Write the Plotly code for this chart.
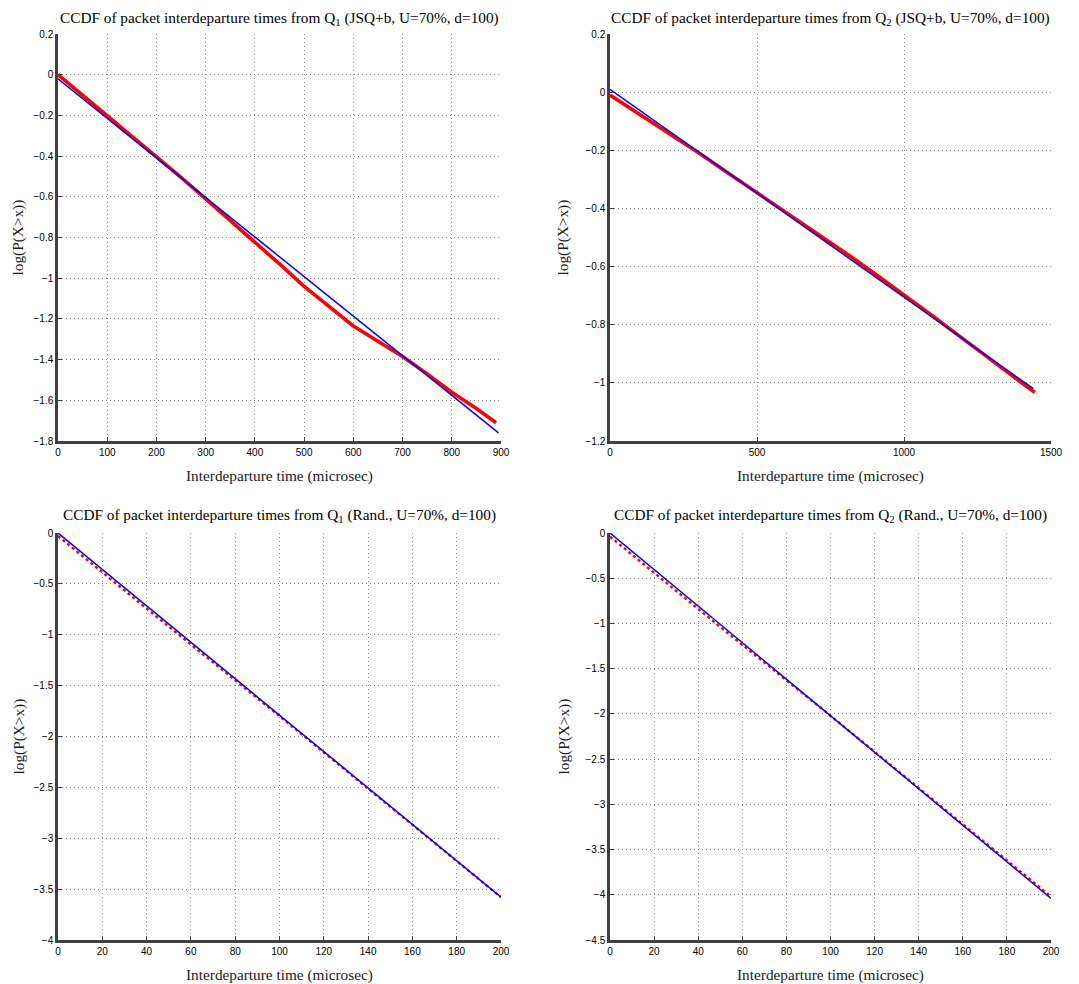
import plotly.graph_objects as go

# ---------------- data ----------------
# Top-left: Q1, JSQ+b
tl_red_x = [0, 50, 100, 150, 200, 250, 300, 350, 400, 450, 500, 550, 600, 650, 700, 750, 800, 850, 890]
tl_red_y = [0.00, -0.10, -0.20, -0.30, -0.40, -0.505, -0.61, -0.715, -0.82, -0.93, -1.04, -1.14,
            -1.235, -1.31, -1.385, -1.47, -1.56, -1.64, -1.71]
tl_blue_x = [0, 895]
tl_blue_y = [-0.02, -1.76]

# Top-right: Q2, JSQ+b
tr_red_x = [0, 100, 200, 300, 400, 500, 600, 700, 800, 900, 1000, 1100, 1200, 1300, 1400, 1445]
tr_red_y = [-0.01, -0.075, -0.142, -0.208, -0.277, -0.345, -0.413, -0.482, -0.552, -0.624, -0.697,
            -0.772, -0.848, -0.925, -1.002, -1.033]
tr_blue_x = [0, 1440]
tr_blue_y = [0.01, -1.02]

# Bottom-left: Q1, Rand.
bl_red_x = [0, 50, 100, 150, 200]
bl_red_y = [-0.03, -0.92, -1.80, -2.69, -3.58]
bl_blue_x = [0, 200]
bl_blue_y = [0.0, -3.58]

# Bottom-right: Q2, Rand.
br_red_x = [0, 50, 100, 150, 200]
br_red_y = [-0.04, -1.04, -2.02, -3.02, -4.02]
br_blue_x = [0, 200]
br_blue_y = [0.0, -4.04]

titles = [
    "CCDF of packet interdeparture times from Q<sub>1</sub> (JSQ+b, U=70%, d=100)",
    "CCDF of packet interdeparture times from Q<sub>2</sub> (JSQ+b, U=70%, d=100)",
    "CCDF of packet interdeparture times from Q<sub>1</sub> (Rand., U=70%, d=100)",
    "CCDF of packet interdeparture times from Q<sub>2</sub> (Rand., U=70%, d=100)",
]
x_label = "Interdeparture time (microsec)"
y_label = "log(P(X>x))"

x_ranges = [[0, 900], [0, 1500], [0, 200], [0, 200]]
x_dticks = [100, 500, 20, 20]
y_ranges = [[-1.8, 0.2], [-1.2, 0.2], [-4, 0], [-4.5, 0]]
y_dticks = [0.2, 0.2, 0.5, 0.5]

# ---------------- layout geometry (pixels) ----------------
W, H = 1079, 984
xpx = [[58, 501], [610, 1051]]
ypx = [[34, 441], [533, 940]]
title_y = [18, 515]
xlab_y = [476, 975]
ylab_x = [18, 563]


def px(x):
    return x / W


def py(y):
    return 1 - y / H


panels = [
    (tl_red_x, tl_red_y, tl_blue_x, tl_blue_y, "solid", 3.6),
    (tr_red_x, tr_red_y, tr_blue_x, tr_blue_y, "solid", 3.6),
    (bl_red_x, bl_red_y, bl_blue_x, bl_blue_y, "dot", 2.4),
    (br_red_x, br_red_y, br_blue_x, br_blue_y, "dot", 2.4),
]

fig = go.Figure()
serif = "Liberation Serif, Times New Roman, serif"
sans = "Liberation Sans, Arial, sans-serif"
TFS = 15.3

annotations = []
for i, (rx, ry, bx, by, rdash, rw) in enumerate(panels):
    n = i + 1
    xa = "x" if n == 1 else f"x{n}"
    ya = "y" if n == 1 else f"y{n}"
    fig.add_trace(go.Scatter(x=rx, y=ry, mode="lines", xaxis=xa, yaxis=ya,
                             line=dict(color="#ff0000", width=rw, dash=rdash), showlegend=False))
    fig.add_trace(go.Scatter(x=bx, y=by, mode="lines", xaxis=xa, yaxis=ya,
                             line=dict(color="#0000ff", width=1.5), showlegend=False))
    col = i % 2
    row = i // 2
    axcommon = dict(
        showgrid=True, gridcolor="#8c8c8c", griddash="1px,3px", gridwidth=1,
        zeroline=False, showline=True, linecolor="#404040", linewidth=2.5,
        ticks="inside", ticklen=4, tickcolor="#404040", tickwidth=1,
        tickfont=dict(family=sans, size=10, color="black"),
        mirror=False, automargin=False,
    )
    xkey = "xaxis" if n == 1 else f"xaxis{n}"
    ykey = "yaxis" if n == 1 else f"yaxis{n}"
    fig.update_layout(**{
        xkey: dict(domain=[px(xpx[col][0]), px(xpx[col][1])], anchor=ya,
                   range=x_ranges[i], dtick=x_dticks[i], tick0=0, **axcommon),
        ykey: dict(domain=[py(ypx[row][1]), py(ypx[row][0])], anchor=xa,
                   range=y_ranges[i], dtick=y_dticks[i], tick0=0, **axcommon),
    })
    cx = (xpx[col][0] + xpx[col][1]) / 2
    cy = (ypx[row][0] + ypx[row][1]) / 2
    annotations.append(dict(text=titles[i], x=px(cx), y=py(title_y[row]), xref="paper", yref="paper",
                            showarrow=False, xanchor="center", yanchor="middle",
                            font=dict(family=serif, size=TFS, color="black")))
    annotations.append(dict(text=x_label, x=px(cx), y=py(xlab_y[row]), xref="paper", yref="paper",
                            showarrow=False, xanchor="center", yanchor="middle",
                            font=dict(family=serif, size=TFS, color="#1a1a1a")))
    annotations.append(dict(text=y_label, x=px(ylab_x[col]), y=py(cy), xref="paper", yref="paper",
                            showarrow=False, xanchor="center", yanchor="middle", textangle=-90,
                            font=dict(family=serif, size=TFS, color="#1a1a1a")))

fig.update_layout(
    width=W, height=H,
    margin=dict(l=0, r=0, t=0, b=0, pad=0, autoexpand=False),
    paper_bgcolor="white", plot_bgcolor="white",
    annotations=annotations,
)

fig.write_html("out.html")
